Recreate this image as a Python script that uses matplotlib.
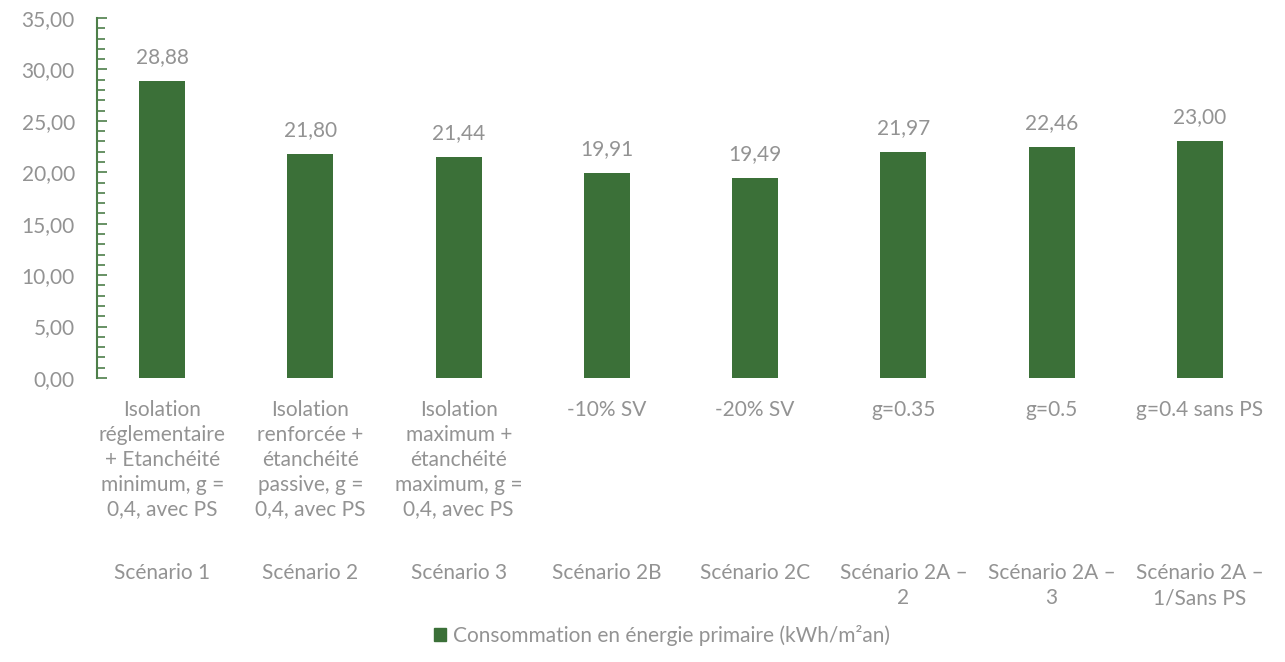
import matplotlib.pyplot as plt
import matplotlib.ticker as mticker
from matplotlib.patches import Patch

# Consommation en énergie primaire par scénario (kWh/m²an)
scenarios = ["Scénario 1", "Scénario 2", "Scénario 3", "Scénario 2B",
             "Scénario 2C", "Scénario 2A –\n2", "Scénario 2A –\n3",
             "Scénario 2A –\n1/Sans PS"]
descriptions = [
    "Isolation\nréglementaire\n+ Etanchéité\nminimum, g =\n0,4, avec PS",
    "Isolation\nrenforcée +\nétanchéité\npassive, g =\n0,4, avec PS",
    "Isolation\nmaximum +\nétanchéité\nmaximum, g =\n0,4, avec PS",
    "-10% SV",
    "-20% SV",
    "g=0.35",
    "g=0.5",
    "g=0.4 sans PS",
]
consommation = [28.88, 21.80, 21.44, 19.91, 19.49, 21.97, 22.46, 23.00]
serie_label = "Consommation en énergie primaire (kWh/m²an)"

GREEN = "#3b7038"
AXIS_GREEN = "#4e7f4a"
TEXT = "#939393"
FS = 15

plt.rcParams["font.family"] = ["Lato", "DejaVu Sans"]

fig = plt.figure(figsize=(12.85, 6.62), dpi=100)
ax = fig.add_axes([97 / 1285, 1 - 378 / 662, (1274 - 97) / 1285, 360 / 662])

x = range(len(consommation))
bars = ax.bar(x, consommation, width=0.31, color=GREEN)

for xi, v in zip(x, consommation):
    ax.annotate(f"{v:.2f}".replace(".", ","), (xi, v), xytext=(0, 10),
                textcoords="offset points", ha="center", va="bottom",
                fontsize=FS, color=TEXT)

ax.set_xlim(-0.44, 7.5)
ax.set_ylim(0, 35)

ax.yaxis.set_major_locator(mticker.MultipleLocator(5))
ax.yaxis.set_minor_locator(mticker.MultipleLocator(1))
ax.yaxis.set_major_formatter(
    mticker.FuncFormatter(lambda v, _: f"{v:.2f}".replace(".", ",")))
ax.tick_params(axis="y", which="both", direction="in", color=AXIS_GREEN,
               labelcolor=TEXT, labelsize=FS, pad=16)
ax.tick_params(axis="y", which="major", length=7, width=1.2)
ax.tick_params(axis="y", which="minor", length=6, width=1.2)

ax.set_xticks(list(x))
ax.set_xticklabels(descriptions, fontsize=FS, color=TEXT, linespacing=1.3)
ax.tick_params(axis="x", length=0, pad=16)

for xi, s in zip(x, scenarios):
    ax.text(xi, -0.515, s, transform=ax.get_xaxis_transform(), ha="center",
            va="top", fontsize=FS, color=TEXT, linespacing=1.3,
            multialignment="center")

for side in ("top", "right", "bottom"):
    ax.spines[side].set_visible(False)
ax.spines["left"].set_color(AXIS_GREEN)
ax.spines["left"].set_linewidth(1.5)

fig.legend(handles=[Patch(color=GREEN, label=serie_label)],
           loc="center", bbox_to_anchor=(0.515, 0.04), frameon=False,
           fontsize=FS, labelcolor=TEXT, handlelength=0.6, handleheight=0.6,
           handletextpad=0.3)

fig.savefig("out.png", dpi=100)
